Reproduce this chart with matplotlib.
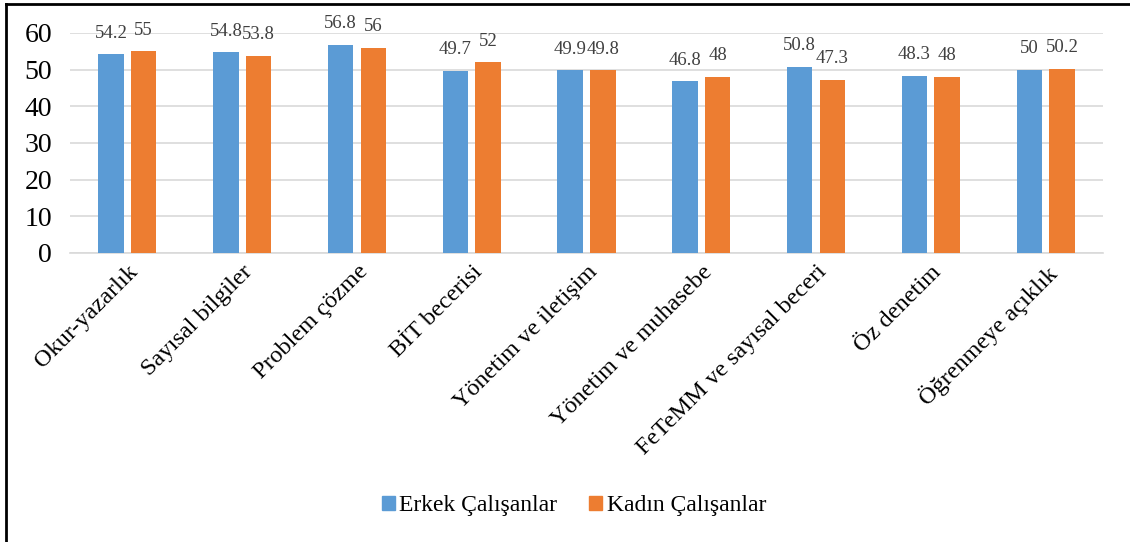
import matplotlib
matplotlib.use("Agg")
import matplotlib.pyplot as plt
import numpy as np
from matplotlib.lines import Line2D
from matplotlib.patches import Patch

categories = ["Okur-yazarlık", "Sayısal bilgiler", "Problem çözme", "BİT becerisi",
              "Yönetim ve iletişim", "Yönetim ve muhasebe", "FeTeMM ve sayısal beceri",
              "Öz denetim", "Öğrenmeye açıklık"]
erkek = [54.2, 54.8, 56.8, 49.7, 49.9, 46.8, 50.8, 48.3, 50.0]
kadin = [55.0, 53.8, 56.0, 52.0, 49.8, 48.0, 47.3, 48.0, 50.2]
erkek_labels = ["54.2", "54.8", "56.8", "49.7", "49.9", "46.8", "50.8", "48.3", "50"]
kadin_labels = ["55", "53.8", "56", "52", "49.8", "48", "47.3", "48", "50.2"]
series_names = ["Erkek Çalışanlar", "Kadın Çalışanlar"]
yticks = [0, 10, 20, 30, 40, 50, 60]

BLUE = "#5B9BD5"
ORANGE = "#ED7D31"

plt.rcParams['font.family'] = ['Liberation Serif', 'DejaVu Serif']

W, H = 1130, 542
fig = plt.figure(figsize=(W / 100, H / 100), dpi=100)
ax = fig.add_axes([70 / W, 1 - 253 / H, (1103 - 70) / W, (253 - 33) / H])

x = np.arange(len(categories))
bw = 0.222
off = 0.142
b1 = ax.bar(x - off, erkek, bw, color=BLUE, zorder=3)
b2 = ax.bar(x + off, kadin, bw, color=ORANGE, zorder=3)

for rect, lab in zip(b1, erkek_labels):
    ax.annotate(lab, (rect.get_x() + rect.get_width() / 2, rect.get_height()),
                xytext=(0, 9), textcoords="offset points", ha="center", va="bottom",
                fontsize=13.5, color="#404040")
for rect, lab in zip(b2, kadin_labels):
    ax.annotate(lab, (rect.get_x() + rect.get_width() / 2, rect.get_height()),
                xytext=(0, 9), textcoords="offset points", ha="center", va="bottom",
                fontsize=13.5, color="#404040")

ax.set_xlim(-0.5, len(categories) - 0.5)
ax.set_ylim(0, 60)
ax.set_yticks(yticks)
ax.set_yticklabels([str(v) for v in yticks], fontsize=20)
ax.set_xticks(x)
ax.set_xticklabels(categories, rotation=45, ha="right", rotation_mode="anchor", fontsize=17.5)
ax.tick_params(axis="both", length=0)
ax.tick_params(axis="x", pad=6)
ax.tick_params(axis="y", pad=13)
ax.yaxis.grid(True, color="#D9D9D9", linewidth=1.2, zorder=0)
for s in ["top", "right", "left"]:
    ax.spines[s].set_visible(False)
ax.spines["bottom"].set_color("#D9D9D9")
ax.spines["bottom"].set_linewidth(1.2)

handles = [Patch(color=BLUE), Patch(color=ORANGE)]
fig.legend(handles, series_names, loc="center", bbox_to_anchor=(574 / W, 1 - 506 / H),
           ncol=2, frameon=False, fontsize=17, handlelength=0.55, handleheight=0.55,
           handletextpad=0.2, columnspacing=1.35)

# figure border (left and top only visible)
fig.add_artist(Line2D([6 / W, 6 / W], [0, 1 - 4 / H], color="black", linewidth=2, transform=fig.transFigure))
fig.add_artist(Line2D([6 / W, 1], [1 - 4 / H, 1 - 4 / H], color="black", linewidth=2, transform=fig.transFigure))

fig.savefig("out.png", dpi=100)
